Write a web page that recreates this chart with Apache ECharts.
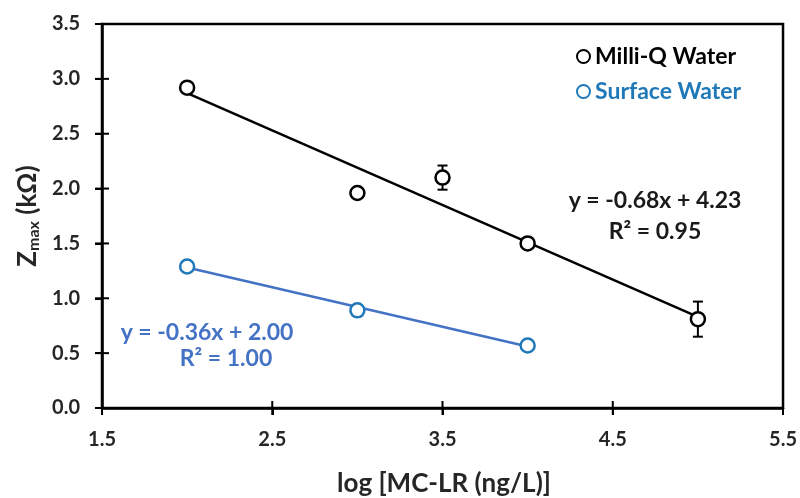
<!DOCTYPE html>
<html lang="en">
<head>
    <meta charset="UTF-8">
    <title>Zmax vs log MC-LR</title>
    <script src="https://cdn.jsdelivr.net/npm/echarts@6/dist/echarts.min.js"></script>
</head>
<body style="margin: 0;">
    <div id="main" style="width: 800px; height: 498px;"></div>
    <script>
        // values
        var milliX = [2, 3, 3.5, 4, 5];
        var milliY = [2.92, 1.96, 2.10, 1.50, 0.81];
        var milliErr = [0.02, 0.02, 0.11, 0.03, 0.16];
        var milliFit = [[2, 2.87], [5, 0.83]];

        var surfX = [2, 3, 4];
        var surfY = [1.29, 0.89, 0.57];
        var surfErr = [0.03, 0.02, 0.02];
        var surfFit = [[2, 1.28], [4, 0.56]];

        var xTicks = [1.5, 2.5, 3.5, 4.5, 5.5];
        var yTicks = [0, 0.5, 1, 1.5, 2, 2.5, 3, 3.5];

        var FONT = 'Lato';
        var BLACK = '#000';
        var TXT = '#262626';
        var BLUE_MARK = '#1F78B8';
        var BLUE_LINE = '#4472C4';

        function pairs(xs, ys) {
            return xs.map(function (x, i) { return [x, ys[i]]; });
        }
        function errData(xs, ys, es) {
            return xs.map(function (x, i) { return [x, ys[i] - es[i], ys[i] + es[i]]; });
        }
        function errSeries(data, color) {
            return {
                type: 'custom',
                data: data,
                z: 3,
                silent: true,
                renderItem: function (params, api) {
                    var lo = api.coord([api.value(0), api.value(1)]);
                    var hi = api.coord([api.value(0), api.value(2)]);
                    var w = 5;
                    var st = { stroke: color, lineWidth: 2 };
                    return {
                        type: 'group',
                        children: [
                            { type: 'line', shape: { x1: lo[0], y1: lo[1], x2: hi[0], y2: hi[1] }, style: st },
                            { type: 'line', shape: { x1: lo[0] - w, y1: lo[1], x2: lo[0] + w, y2: lo[1] }, style: st },
                            { type: 'line', shape: { x1: hi[0] - w, y1: hi[1], x2: hi[0] + w, y2: hi[1] }, style: st }
                        ]
                    };
                }
            };
        }

        // plot frame plus ticks crossing the axes, placed through the axes' scales
        var frameSeries = {
            type: 'custom',
            data: [[xTicks[0], yTicks[0]]],
            z: 5,
            silent: true,
            clip: false,
            renderItem: function (params, api) {
                var cs = params.coordSys;
                var t = 7;
                var tick = { stroke: BLACK, lineWidth: 2 };
                var kids = [{
                    type: 'rect',
                    shape: { x: cs.x, y: cs.y, width: cs.width, height: cs.height },
                    style: { fill: 'none', stroke: BLACK, lineWidth: 2.5 }
                }];
                var y0 = yTicks[0];
                var x0 = xTicks[0];
                xTicks.forEach(function (v) {
                    var p = api.coord([v, y0]);
                    kids.push({ type: 'line', shape: { x1: p[0], y1: p[1] - t, x2: p[0], y2: p[1] + t }, style: tick });
                });
                yTicks.forEach(function (v) {
                    var p = api.coord([x0, v]);
                    kids.push({ type: 'line', shape: { x1: p[0] - t, y1: p[1], x2: p[0] + t, y2: p[1] }, style: tick });
                });
                return { type: 'group', children: kids };
            }
        };

        function oneDec(v) { return v.toFixed(1); }
        function label(x, y, text, size, color) {
            return {
                type: 'text', x: x, y: y, z: 10,
                style: { text: text, fontFamily: FONT, fontWeight: 'bold', fontSize: size, fill: color, align: 'center', verticalAlign: 'middle' }
            };
        }

        var c = echarts.init(document.getElementById('main'));
        c.setOption({
            animation: false,
            textStyle: { fontFamily: FONT },
            grid: { left: 102, right: 16, top: 24, bottom: 90 },
            legend: {
                orient: 'vertical',
                left: 571, top: 40,
                itemWidth: 13, itemHeight: 13,
                itemGap: 12,
                textStyle: { fontFamily: FONT, fontWeight: 'bold', fontSize: 23 },
                data: [
                    { name: 'Milli-Q Water', textStyle: { color: BLACK } },
                    { name: 'Surface Water', textStyle: { color: BLUE_MARK } }
                ]
            },
            xAxis: {
                type: 'value',
                min: 1.5, max: 5.5, interval: 1,
                splitLine: { show: false },
                axisLine: { show: true, onZero: false, lineStyle: { color: BLACK, width: 2.5 } },
                axisTick: { show: true, length: 7, lineStyle: { color: BLACK, width: 2 } },
                axisLabel: { margin: 22, fontWeight: 'bold', fontSize: 20, color: TXT, formatter: oneDec }
            },
            yAxis: {
                type: 'value',
                min: 0, max: 3.5, interval: 0.5,
                splitLine: { show: false },
                axisLine: { show: true, onZero: false, lineStyle: { color: BLACK, width: 2.5 } },
                axisTick: { show: true, length: 7, lineStyle: { color: BLACK, width: 2 } },
                axisLabel: { margin: 22, fontWeight: 'bold', fontSize: 20, color: TXT, formatter: oneDec }
            },
            graphic: [
                label(444, 484, 'log [MC-LR (ng/L)]', 26, TXT),
                {
                    type: 'text', x: 28, y: 216, rotation: Math.PI / 2, z: 10,
                    style: {
                        text: '{b|Z}{s|max}{b| (kΩ)}',
                        align: 'center', verticalAlign: 'middle',
                        rich: {
                            b: { fontFamily: FONT, fontWeight: 'bold', fontSize: 26, fill: TXT },
                            s: { fontFamily: FONT, fontWeight: 'bold', fontSize: 16, fill: TXT, padding: [12, 0, 0, 0] }
                        }
                    }
                },
                label(655, 201, 'y = -0.68x + 4.23', 23, '#1a1a1a'),
                label(655, 232, 'R² = 0.95', 23, '#1a1a1a'),
                label(207, 333, 'y = -0.36x + 2.00', 23, BLUE_LINE),
                label(226, 359, 'R² = 1.00', 23, BLUE_LINE)
            ],
            series: [
                frameSeries,
                { name: 'Milli-Q fit', type: 'line', data: milliFit, symbol: 'none', z: 2, lineStyle: { color: BLACK, width: 2.5 } },
                { name: 'Surface fit', type: 'line', data: surfFit, symbol: 'none', z: 2, lineStyle: { color: BLUE_LINE, width: 2.5 } },
                errSeries(errData(milliX, milliY, milliErr), BLACK),
                errSeries(errData(surfX, surfY, surfErr), BLUE_MARK),
                {
                    name: 'Milli-Q Water', type: 'scatter', data: pairs(milliX, milliY),
                    symbol: 'circle', symbolSize: 14, z: 4,
                    itemStyle: { color: '#fff', opacity: 1, borderColor: BLACK, borderWidth: 2.5 }
                },
                {
                    name: 'Surface Water', type: 'scatter', data: pairs(surfX, surfY),
                    symbol: 'circle', symbolSize: 14, z: 4,
                    itemStyle: { color: '#fff', opacity: 1, borderColor: BLUE_MARK, borderWidth: 2.5 }
                }
            ]
        });
    </script>
</body>
</html>
